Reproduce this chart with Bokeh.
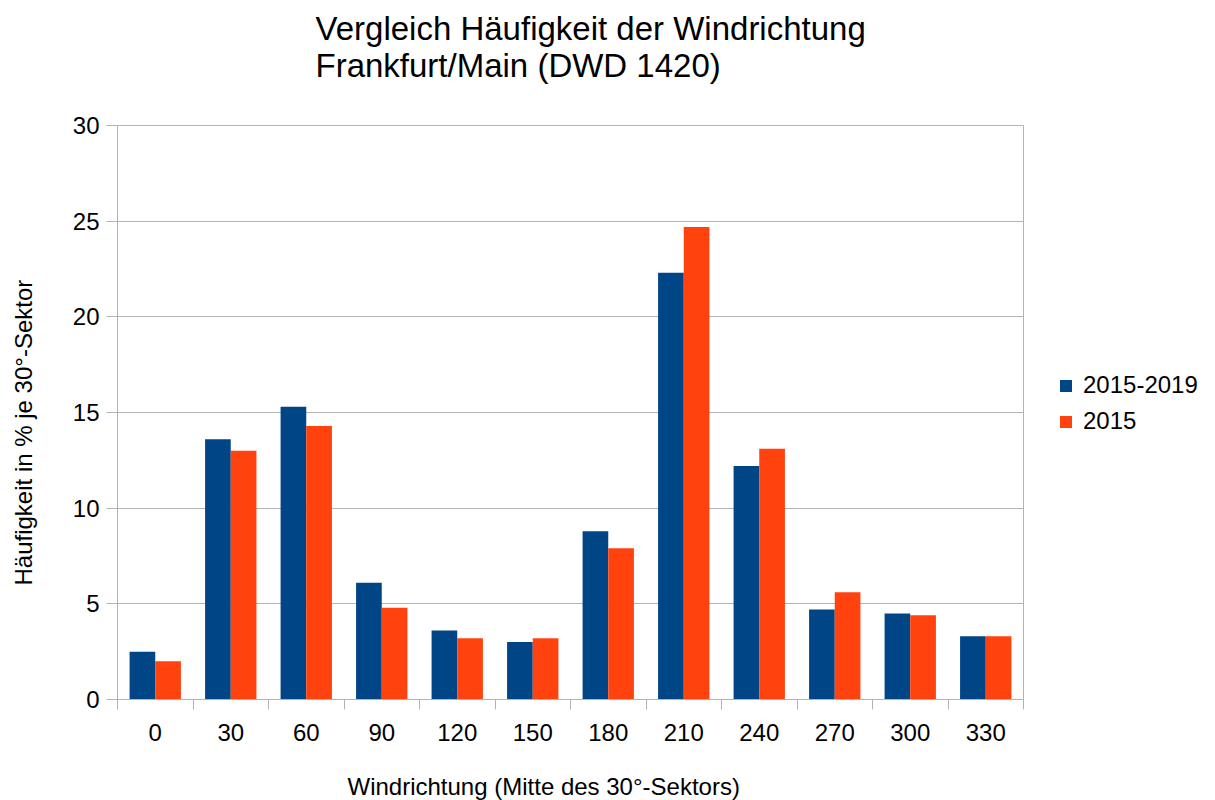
import numpy as np
from bokeh.plotting import figure
from bokeh.models import (ColumnDataSource, FixedTicker, Legend, LegendItem,
                          Range1d, Title)
from bokeh.transform import dodge
from bokeh.embed import file_html
from bokeh.resources import INLINE

# ---- data ----
directions = ["0", "30", "60", "90", "120", "150", "180", "210", "240", "270", "300", "330"]
freq_2015_2019 = [2.5, 13.6, 15.3, 6.1, 3.6, 3.0, 8.8, 22.3, 12.2, 4.7, 4.5, 3.3]
freq_2015 = [2.0, 13.0, 14.3, 4.8, 3.2, 3.2, 7.9, 24.7, 13.1, 5.6, 4.4, 3.3]
series_names = ["2015-2019", "2015"]
y_ticks = [0, 5, 10, 15, 20, 25, 30]

title_lines = ["Vergleich Häufigkeit der Windrichtung", "Frankfurt/Main (DWD 1420)"]
x_title = "Windrichtung (Mitte des 30°-Sektors)"
y_title = "Häufigkeit in % je 30°-Sektor"

BLUE = "#004586"
ORANGE = "#ff420e"
GRID = "#b3b3b3"
FONT = "Liberation Sans"

pos = list(range(len(directions)))
src = ColumnDataSource(dict(pos=pos, a=freq_2015_2019, b=freq_2015))

p = figure(frame_width=906, frame_height=574, output_backend="svg", toolbar_location=None,
           x_range=Range1d(-0.5, len(directions) - 0.5), y_range=Range1d(0, 30),
           min_border_left=117, min_border_right=192, min_border_top=125,
           min_border_bottom=101)
p.background_fill_color = "white"
p.border_fill_color = "white"
p.outline_line_color = GRID
p.outline_line_width = 1

r1 = p.vbar(x=dodge("pos", -0.17, range=p.x_range), top="a", width=0.34, source=src,
            fill_color=BLUE, line_color=None)
r2 = p.vbar(x=dodge("pos", 0.17, range=p.x_range), top="b", width=0.34, source=src,
            fill_color=ORANGE, line_color=None)

# title (a trailing blank line keeps the gap between title and plot area)
p.title.text = "\n".join(title_lines) + "\n "
p.title.align = "left"
p.title.offset = 198
p.title.standoff = 10
p.title.text_font = FONT
p.title.text_font_size = "33px"
p.title.text_font_style = "normal"
p.title.text_color = "black"

# x axis
p.xaxis.ticker = FixedTicker(ticks=pos, minor_ticks=[i - 0.5 for i in range(len(directions) + 1)])
p.xaxis.major_label_overrides = {i: d for i, d in enumerate(directions)}
p.xaxis.major_tick_line_color = None
p.xaxis.major_tick_out = 10
p.xaxis.major_tick_in = 0
p.xaxis.minor_tick_line_color = GRID
p.xaxis.minor_tick_out = 10
p.xaxis.minor_tick_in = 0
p.xaxis.axis_line_color = GRID
p.xaxis.major_label_standoff = 14
p.xaxis.major_label_text_font = FONT
p.xaxis.major_label_text_font_size = "24px"
p.xaxis.major_label_text_color = "black"
p.xgrid.grid_line_color = None

# y axis
p.yaxis.ticker = FixedTicker(ticks=y_ticks)
p.yaxis.major_tick_line_color = GRID
p.yaxis.major_tick_out = 11
p.yaxis.major_tick_in = 0
p.yaxis.minor_tick_line_color = None
p.yaxis.axis_line_color = GRID
p.yaxis.major_label_standoff = 7
p.yaxis.major_label_text_font = FONT
p.yaxis.major_label_text_font_size = "24px"
p.yaxis.major_label_text_color = "black"
p.ygrid.grid_line_color = GRID
p.ygrid.grid_line_width = 1

# axis titles (side titles, blank line used as spacer)
p.add_layout(Title(text=" \n" + x_title, align="left", offset=230, standoff=0,
                   text_line_height=1.0,
                   text_font=FONT, text_font_size="24px", text_font_style="normal",
                   text_color="black"), "below")
p.add_layout(Title(text=y_title + "\n ", align="left", offset=114, standoff=11,
                   text_font=FONT, text_font_size="24px", text_font_style="normal",
                   text_color="black"), "left")

legend = Legend(items=[LegendItem(label=series_names[0], renderers=[r1]),
                       LegendItem(label=series_names[1], renderers=[r2])],
                location=(35, 263), orientation="vertical")
legend.label_text_font = FONT
legend.label_text_font_size = "24px"
legend.label_text_color = "black"
legend.label_height = 30
legend.glyph_height = 15
legend.glyph_width = 15
legend.spacing = 6
legend.padding = 0
legend.margin = 0
legend.label_standoff = 10
legend.border_line_color = None
legend.background_fill_alpha = 0
p.add_layout(legend, "right")

open("out.html", "w").write(file_html(p, INLINE))
